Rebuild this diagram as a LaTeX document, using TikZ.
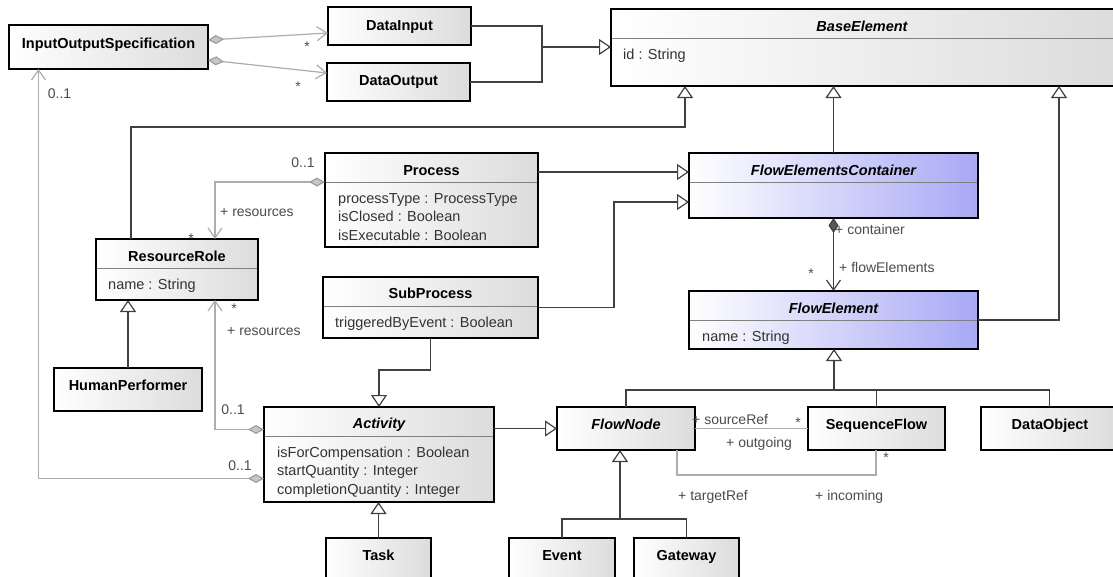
\documentclass[tikz,border=0pt]{standalone}
\usepackage{fontspec}
\setmainfont{Liberation Sans}
\usetikzlibrary{arrows.meta,fit,calc}
\definecolor{fblue}{RGB}{168,168,246}
\definecolor{boxgray}{RGB}{220,220,220}
\begin{document}
\begin{tikzpicture}[x=1pt,y=-1pt,
 cls/.style={draw=black, line width=2.2pt, left color=white, right color=boxgray, inner sep=0pt, outer sep=0pt},
 bluecls/.style={cls, right color=fblue},
 sepline/.style={draw=black!50, line width=0.9pt},
 ttl/.style={font=\fontsize{14.5}{17}\selectfont\bfseries, text height=10pt, text depth=0pt, inner sep=0pt},
 ttli/.style={ttl, font=\fontsize{14.5}{17}\selectfont\bfseries\itshape},
 attr/.style={font=\fontsize{14.5}{18.5}\selectfont, text=black!80, align=left, inner sep=0pt, anchor=base west},
 lbl/.style={font=\fontsize{14}{17}\selectfont, text=black!70, inner sep=0pt, text height=10pt, text depth=0pt},
 lblw/.style={lbl, anchor=west},
 conn/.style={draw=black!75, line width=1.2pt},
 gen/.style={conn, -{Triangle[length=12pt, width=16pt, fill=white]}},
 assoc/.style={draw=black!32, line width=1.2pt},
 agg/.style={assoc, {Diamond[length=16pt, width=9pt, fill=black!22, color=black!38]}-{Straight Barb[length=10pt, width=14pt]}},
 comp/.style={conn, {Diamond[length=15pt, width=10pt, fill=black!65, color=black!75]}-{Straight Barb[length=10pt, width=14pt]}}
]
\useasboundingbox (0,0) rectangle (1113,576);
\fill[white] (0,0) rectangle (1113,576);

% ---------- boxes ----------
\node[cls, fit={(9,25) (208,69)}] (ios) {};
\node[cls, fit={(328,7) (471,45)}] (din) {};
\node[cls, fit={(327,63) (470,101)}] (dout) {};
\node[cls, fit={(611,9) (1118,86)}] (baseel) {};
\node[bluecls, fit={(689,153) (978,218)}] (fec) {};
\node[bluecls, fit={(689,291) (978,349)}] (fel) {};
\node[cls, fit={(325,153) (538,247)}] (proc) {};
\node[cls, fit={(323,277) (538,338)}] (sub) {};
\node[cls, fit={(96,239) (258,300)}] (rr) {};
\node[cls, fit={(54,368) (202,411)}] (hp) {};
\node[cls, fit={(264,407) (494,502)}] (act) {};
\node[cls, fit={(326,538) (431,580)}] (task) {};
\node[cls, fit={(557,407) (695,450)}] (fnode) {};
\node[cls, fit={(808,407) (945,450)}] (sflow) {};
\node[cls, fit={(981,407) (1118,450)}] (dobj) {};
\node[cls, fit={(509,538) (615,580)}] (event) {};
\node[cls, fit={(634,538) (739,580)}] (gw) {};

% ---------- separators ----------
\foreach \n in {baseel,fec,fel,proc,sub,rr,act}
  \draw[sepline] ([yshift=-29pt,xshift=1.1pt]\n.north west) -- ([yshift=-29pt,xshift=-1.1pt]\n.north east);

% ---------- titles ----------
\node[ttl] (ios-t) at (108.5,43) {InputOutputSpecification};
\node[ttl] (din-t) at (399.5,25) {DataInput};
\node[ttl] (dout-t) at (398.5,80) {DataOutput};
\node[ttli] (baseel-t) at (862,26) {BaseElement};
\node[ttli] (fec-t) at (833.5,170) {FlowElementsContainer};
\node[ttli] (fel-t) at (833.5,308) {FlowElement};
\node[ttl] (proc-t) at (431.5,170) {Process};
\node[ttl] (sub-t) at (430.5,293) {SubProcess};
\node[ttl] (rr-t) at (177,256) {ResourceRole};
\node[ttl] (hp-t) at (128,385) {HumanPerformer};
\node[ttli] (act-t) at (379,423) {Activity};
\node[ttl] (task-t) at (378.5,555) {Task};
\node[ttli] (fnode-t) at (626,424) {FlowNode};
\node[ttl] (sflow-t) at (876.5,424) {SequenceFlow};
\node[ttl] (dobj-t) at (1050,424) {DataObject};
\node[ttl] (event-t) at (562,555) {Event};
\node[ttl] (gw-t) at (686.5,555) {Gateway};

% ---------- attributes (anchor = baseline of the last line) ----------
\node[attr] (baseel-a) at (623,59) {id : String};
\node[attr] (proc-a) at (338,240) {processType : ProcessType\\isClosed : Boolean\\isExecutable : Boolean};
\node[attr] (sub-a) at (335,327) {triggeredByEvent : Boolean};
\node[attr] (rr-a) at (108,289) {name : String};
\node[attr] (fel-a) at (702,341) {name : String};
\node[attr] (act-a) at (277,494) {isForCompensation : Boolean\\startQuantity : Integer\\completionQuantity : Integer};

% ---------- generalizations ----------
\coordinate (j1) at (542,47);
\draw[conn] (din.east) -| (j1);
\draw[conn] (dout.east) -| (j1);
\draw[gen] (j1) -- (j1 -| baseel.west);

\coordinate (b1) at (685,127);
\draw[gen] ([xshift=-46pt]rr.north) |- (b1) -- (b1 |- baseel.south);
\draw[gen] (fec.north) -- (fec.north |- baseel.south);
\coordinate (b3) at (1059,320);
\draw[gen] (fel.east) -- (b3) -- (b3 |- baseel.south);

\coordinate (p1) at ([yshift=28pt]proc.east);
\draw[gen] (p1) -- (p1 -| fec.west);
\coordinate (s1) at (614,202);
\draw[gen] (sub.east) -| (s1) -- (s1 -| fec.west);
\coordinate (s2) at (379,370);
\draw[gen] (sub.south) |- (s2) -- (act.north);

\draw[gen] (act.east |- fnode.west) -- (fnode.west);
\draw[gen] (task.north) -- (task.north |- act.south);
\draw[gen] (hp.north) -- (hp.north |- rr.south);

\coordinate (f1) at (834,390);
\draw[conn] (fnode.north) |- (dobj.north |- f1) -- (dobj.north);
\draw[conn] (sflow.north) -- (sflow.north |- f1);
\draw[gen] (f1) -- (f1 |- fel.south);

\coordinate (g1) at (620,519);
\draw[conn] (event.north) |- (gw.north |- g1) -- (gw.north);
\draw[gen] (g1) -- (g1 |- fnode.south);

% ---------- associations ----------
\draw[comp] (fec.south) -- (fel.north);
\draw[agg] ([yshift=7pt]ios.east) -- ([yshift=-7pt]din.west);
\draw[agg] ([yshift=-13pt]ios.east) -- ([yshift=9pt]dout.west);
\draw[agg] ([yshift=18pt]proc.west) -| ([xshift=38pt]rr.north);
\draw[agg] ([yshift=25pt]act.west) -| ([xshift=38pt]rr.south);
\draw[agg] ([yshift=-24pt]act.west) -| ([xshift=-70pt]ios.south);
\draw[assoc] (fnode.east) -- (sflow.west);
\coordinate (lp) at (876,475);
\draw[assoc] ([xshift=51pt]fnode.south) |- (lp) -- (lp |- sflow.south);

% ---------- labels ----------
\node[lbl] (m1) at (307,46) {*};
\node[lbl] (m2) at (298,86) {*};
\node[lbl] (m3) at (59.5,93) {0..1};
\node[lbl] (m4) at (303,162) {0..1};
\node[lblw] (m5) at (220,211) {+ resources};
\node[lbl] (m6) at (191,238) {*};
\node[lblw] (m7) at (227,330) {+ resources};
\node[lbl] (m8) at (234,308) {*};
\node[lbl] (m9) at (233,409) {0..1};
\node[lbl] (m10) at (240,465) {0..1};
\node[lblw] (m11) at (835,229) {+ container};
\node[lblw] (m12) at (839,267) {+ flowElements};
\node[lbl] (m13) at (811,273) {*};
\node[lblw] (m14) at (692,419) {+ sourceRef};
\node[lbl] (m15) at (798,422) {*};
\node[lblw] (m16) at (726,442) {+ outgoing};
\node[lbl] (m17) at (886,457) {*};
\node[lblw] (m18) at (678,495) {+ targetRef};
\node[lblw] (m19) at (815,495) {+ incoming};
\end{tikzpicture}
\end{document}
